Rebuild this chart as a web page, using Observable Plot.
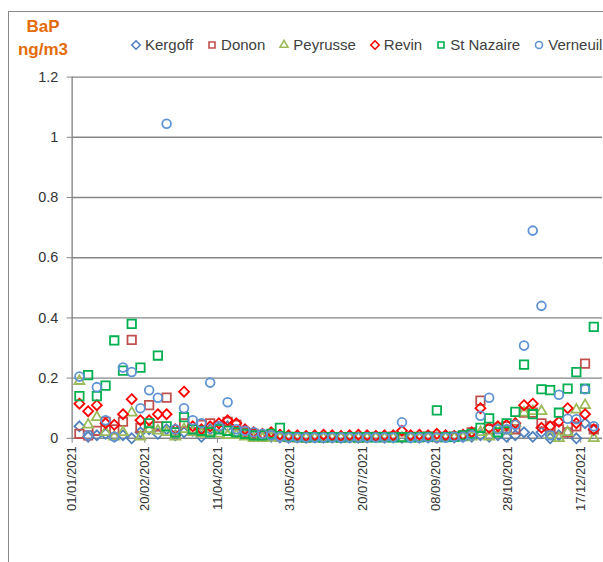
<!DOCTYPE html>
<html><head><meta charset="utf-8">
<script src="https://cdn.jsdelivr.net/npm/d3@7"></script>
<script src="https://cdn.jsdelivr.net/npm/@observablehq/plot@0.6"></script>
<style>
html,body{margin:0;padding:0;background:#fff;}
#wrap{position:relative;width:603px;height:562px;overflow:hidden;font-family:"Liberation Sans",Arial,sans-serif;}
#frame{position:absolute;left:8px;top:11px;width:800px;height:800px;border:1px solid #898989;}
#chart{position:absolute;left:0;top:0;}
#ylab{position:absolute;left:12px;top:15px;width:62px;text-align:center;color:#E46C0A;font-weight:bold;font-size:17px;line-height:23px;}
#legend{position:absolute;left:131px;top:36px;display:flex;align-items:center;font-size:15px;color:#404040;white-space:nowrap;}
.item{display:flex;align-items:center;margin-right:14px;}
.item svg{margin-right:4px;overflow:visible;}
</style></head><body>
<div id="wrap"><div id="frame"></div><div id="chart"></div><div id="ylab">BaP<br>ng/m3</div><div id="legend"></div></div>
<script>
// sampling dates (2021)
const dates = ["01-06","01-12","01-18","01-24","01-30","02-05","02-11","02-17","02-23","03-01",
"03-07","03-13","03-19","03-25","03-31","04-06","04-12","04-18","04-24","04-30",
"05-06","05-12","05-18","05-24","05-30","06-05","06-11","06-17","06-23","06-29",
"07-05","07-11","07-17","07-23","07-29","08-04","08-10","08-16","08-22","08-28",
"09-03","09-09","09-15","09-21","09-27","10-03","10-09","10-15","10-21","10-27",
"11-02","11-08","11-14","11-20","11-26","12-02","12-08","12-14","12-20","12-26"];

const seriesNames = ["Kergoff","Donon","Peyrusse","Revin","St Nazaire","Verneuil"];
const seriesColors = ["#4F81BD","#C0504D","#9BBB59","#FF0000","#00B050","#5F93D3"];
const seriesSymbols = ["diamond2","square2","triangle2","diamond2","square2","circle"];

const kergoff = [0.04,0.005,0.01,0.015,0.005,0.01,0.0,0.02,0.03,0.015,
 0.03,0.01,0.02,0.025,0.005,0.03,0.035,0.04,0.02,0.015,
 0.01,0.008,0.005,0.003,0.002,0.003,0.002,0.003,0.002,0.003,
 0.002,0.003,0.002,0.003,0.004,0.002,0.003,0.002,0.003,0.002,
 0.003,0.002,0.004,0.003,0.004,0.005,0.01,0.005,0.01,0.005,
 0.01,0.02,0.005,0.02,0.0,0.01,0.02,0.0,0.05,0.027];
const donon = [0.015,0.01,0.025,0.055,0.03,0.055,0.327,0.035,0.11,0.04,
 0.135,0.02,0.05,0.03,0.045,0.05,0.04,0.055,0.045,0.02,
 0.015,0.01,0.008,0.005,0.004,0.004,0.003,0.004,0.003,0.004,
 0.003,0.004,0.003,0.004,0.005,0.004,0.006,0.004,0.005,0.004,
 0.006,0.004,0.005,0.006,0.01,0.02,0.125,0.03,0.035,0.04,
 0.03,0.085,0.085,0.05,0.04,0.03,0.02,0.04,0.248,0.03];
const peyrusse = [0.19,0.045,0.07,0.02,0.005,0.02,0.085,0.005,0.03,0.025,
 0.02,0.005,0.03,0.02,0.015,0.02,0.015,0.01,0.01,0.005,
 0.0,0.0,0.002,0.001,0.002,0.001,0.002,0.001,0.002,0.001,
 0.002,0.001,0.002,0.001,0.002,0.001,0.002,0.001,0.002,0.001,
 0.002,0.001,0.002,0.002,0.003,0.005,0.02,0.005,0.03,0.025,
 0.05,0.085,0.09,0.09,0.01,0.0,0.02,0.095,0.11,0.0];
const revin = [0.115,0.09,0.11,0.05,0.045,0.08,0.13,0.06,0.06,0.08,
 0.08,0.03,0.155,0.04,0.03,0.04,0.05,0.06,0.05,0.03,
 0.02,0.015,0.02,0.012,0.01,0.01,0.008,0.01,0.012,0.01,
 0.008,0.01,0.012,0.01,0.008,0.01,0.01,0.025,0.01,0.012,
 0.01,0.015,0.01,0.008,0.012,0.02,0.1,0.035,0.04,0.045,
 0.05,0.11,0.115,0.035,0.04,0.055,0.1,0.05,0.08,0.03];
const stNazaire = [0.14,0.21,0.14,0.175,0.325,0.225,0.38,0.235,0.05,0.275,
 0.04,0.02,0.07,0.03,0.025,0.02,0.03,0.025,0.02,0.015,
 0.01,0.01,0.015,0.035,0.005,0.004,0.003,0.004,0.003,0.004,
 0.003,0.004,0.003,0.004,0.003,0.004,0.003,0.004,0.003,0.004,
 0.005,0.093,0.004,0.005,0.01,0.015,0.035,0.066,0.02,0.05,
 0.088,0.245,0.08,0.163,0.16,0.085,0.165,0.22,0.165,0.37];
const verneuil = [0.205,0.01,0.17,0.06,0.005,0.235,0.22,0.1,0.16,0.135,
 1.045,0.03,0.1,0.06,0.05,0.185,0.04,0.12,0.03,0.025,
 0.02,0.015,0.01,0.005,0.003,0.003,0.003,0.003,0.003,0.003,
 0.003,0.003,0.003,0.003,0.003,0.003,0.003,0.053,0.003,0.003,
 0.003,0.003,0.003,0.005,0.005,0.01,0.075,0.135,0.03,0.03,
 0.045,0.308,0.69,0.44,0.01,0.145,0.065,0.063,0.163,0.04];

const yTicks = [0,0.2,0.4,0.6,0.8,1,1.2];
const xTickLabels = ["01/01/2021","20/02/2021","11/04/2021","31/05/2021","20/07/2021","08/09/2021","28/10/2021","17/12/2021"];

const allValues = [kergoff, donon, peyrusse, revin, stNazaire, verneuil];
const sizes = [4.5, 5.4, 4.8, 4.5, 5.4, 4.4];

const parseDMY = d3.utcParse("%d/%m/%Y");
const xTicks = xTickLabels.map(parseDMY);
const dateObjs = dates.map(s => new Date("2021-" + s + "T00:00:00Z"));

const marks = [
  Plot.ruleY(yTicks, {stroke: "#868686", strokeWidth: 1.4}),
  Plot.ruleX([new Date("2021-01-01T00:00:00Z")], {y1: 0, y2: 1.2, stroke: "#868686", strokeWidth: 1.4}),
  Plot.axisY({ticks: yTicks, tickSize: 5, tickPadding: 9, tickFormat: d => String(d), stroke: "#868686", fill: "#333", fontSize: 14.5}),
  Plot.axisX({ticks: xTicks, tickSize: 5, tickPadding: 3, tickRotate: -90, tickFormat: d3.utcFormat("%d/%m/%Y"), stroke: "#868686", fill: "#333", fontSize: 13})
];
seriesNames.forEach((name, i) => {
  const rows = dateObjs.map((d, j) => ({date: d, value: allValues[i][j]})).filter(r => r.value != null);
  marks.push(Plot.dot(rows, {x: "date", y: "value", symbol: seriesSymbols[i], r: sizes[i], stroke: seriesColors[i], strokeWidth: 1.8, fill: "none"}));
});

const chart = Plot.plot({
  width: 606, height: 562,
  marginLeft: 72, marginRight: 1, marginTop: 77, marginBottom: 122,
  x: {type: "utc", domain: [new Date("2021-01-01T00:00:00Z"), new Date("2022-01-01T00:00:00Z")], label: null},
  y: {domain: [0, 1.2], label: null},
  style: {fontFamily: "Liberation Sans, Arial, sans-serif", fontSize: "14px", background: "transparent", overflow: "visible"},
  marks
});
document.getElementById("chart").appendChild(chart);

// legend
const leg = d3.select("#legend");
seriesNames.forEach((name, i) => {
  const it = leg.append("div").attr("class", "item");
  const svg = it.append("svg").attr("width", 10).attr("height", 12);
  const sym = {diamond2: d3.symbolDiamond2, square2: d3.symbolSquare2, triangle2: d3.symbolTriangle2, circle: d3.symbolCircle}[seriesSymbols[i]];
  const sz = seriesSymbols[i] === "circle" ? 3.5*3.5*Math.PI : 3.8*3.8*Math.PI;
  svg.append("path").attr("transform", "translate(5,6)").attr("d", d3.symbol(sym, sz)()).attr("fill", "none").attr("stroke", seriesColors[i]).attr("stroke-width", 1.6);
  it.append("span").text(name);
});
</script>
</body></html>
